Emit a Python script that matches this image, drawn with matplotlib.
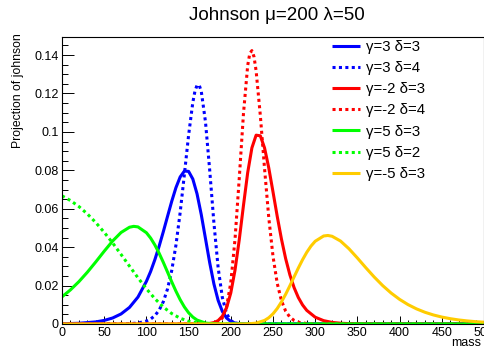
import matplotlib
matplotlib.use("Agg")
import matplotlib.pyplot as plt
from matplotlib.ticker import MultipleLocator, FuncFormatter

plt.rcParams['font.family'] = ['Liberation Sans', 'DejaVu Sans']

# values (y = projection per 5-unit bin)
blue_x = [0, 20, 40, 50, 60, 70, 80, 90,
          100, 105, 110, 115, 120, 125, 130, 135, 140, 145, 150, 155, 160,
          165, 170, 175, 180, 185, 190, 195, 200, 205, 210, 220, 500]
blue_solid = [0.00013, 0.00038, 0.0011, 0.00186, 0.00313, 0.00524, 0.00865, 0.01402,
              0.02219, 0.02733, 0.03345, 0.04038, 0.04799, 0.05597, 0.06385, 0.07098,
              0.07653, 0.07962, 0.07944, 0.07547, 0.06775, 0.05697, 0.04446, 0.03189,
              0.02083, 0.0123, 0.00653, 0.00311, 0.00133, 0.00052, 0.00018, 0.00002, 0]

bluedot_x = [0, 60, 70, 80, 90, 100, 105, 110, 115, 120, 125, 130, 135, 140, 145,
             150, 155, 157.5, 160, 162.5, 165, 170, 175, 180, 185, 190, 195, 200,
             205, 210, 220, 500]
blue_dotted = [0, 0.00002, 0.00005, 0.00017, 0.00051, 0.00152, 0.00258, 0.00433,
               0.00714, 0.01154, 0.01819, 0.02782, 0.04105, 0.05801, 0.07786,
               0.09829, 0.11537, 0.12115, 0.12431, 0.1244, 0.12119, 0.10524, 0.08008,
               0.05255, 0.02932, 0.01376, 0.0054, 0.00177, 0.00049, 0.00012, 0, 0]

red_x = [0, 150, 160, 170, 175, 180, 185, 190, 195, 200, 205, 210, 215, 220, 225,
         230, 235, 240, 245, 250, 255, 260, 265, 270, 275, 280, 285, 290,
         300, 310, 320, 330, 340, 350, 360, 380, 500]
red_solid = [0, 0, 0.00001, 0.00011, 0.00029, 0.00073, 0.00178, 0.00404, 0.00846,
             0.0162, 0.02805, 0.0438, 0.0617, 0.07876, 0.09169, 0.0983, 0.09796,
             0.09164, 0.08122, 0.06878, 0.05605, 0.04425, 0.03402, 0.0256, 0.01893,
             0.01379, 0.00994, 0.00709, 0.00354, 0.00174, 0.00084, 0.00041, 0.0002,
             0.0001, 0.00005, 0.00001, 0]

reddot_x = [0, 170, 180, 185, 190, 195, 200, 205, 210, 215, 220, 222.5, 225, 227.5,
            230, 235, 240, 245, 250, 255, 260, 265, 270, 275, 280, 290, 300, 500]
red_dotted = [0, 0.00001, 0.00026, 0.00097, 0.00315, 0.00893, 0.0216, 0.0441,
              0.07568, 0.10945, 0.13451, 0.14084, 0.14233, 0.13911, 0.13175, 0.10849,
              0.08081, 0.05529, 0.03525, 0.02119, 0.01214, 0.00669, 0.00357,
              0.00186, 0.00095, 0.00024, 0.00006, 0]

green_x = [0, 10, 20, 30, 40, 50, 60, 70, 80, 85, 90, 100, 105, 110, 115, 120, 125,
           130, 135, 140, 145, 150, 155, 160, 170, 180, 190, 500]
green_solid = [0.01414, 0.01776, 0.02204, 0.02694, 0.03231, 0.03789, 0.04321,
               0.04765, 0.05038, 0.05083, 0.05055, 0.04752, 0.04474, 0.04116, 0.0369,
               0.03213, 0.02707, 0.02196, 0.01708, 0.01266, 0.00888, 0.00586, 0.0036,
               0.00205, 0.0005, 0.00008, 0.00001, 0]

greendot_x = [0, 10, 20, 30, 40, 50, 60, 70, 80, 90, 100, 110, 120, 130, 140, 150,
              160, 170, 180, 190, 500]
green_dotted = [0.06673, 0.06428, 0.06115, 0.05732, 0.05282, 0.04772, 0.04218,
                0.0362, 0.03009, 0.02406, 0.01834, 0.0132, 0.00885, 0.00544, 0.00299,
                0.00143, 0.00058, 0.00019, 0.00005, 0.00001, 0]

yellow_x = [0, 200, 210, 220, 230, 240, 245, 250, 255, 260, 265, 270, 275, 280, 285,
            290, 295, 300, 310, 315, 320, 330, 340, 350, 360, 370, 380, 390, 400,
            410, 420, 430, 440, 450, 460, 470, 480, 490, 500]
yellow_solid = [0, 0, 0.00001, 0.00007, 0.00046, 0.00186, 0.00327, 0.00531, 0.00805,
                0.01148, 0.01548, 0.01991, 0.02454, 0.02912, 0.03345, 0.03731,
                0.04056, 0.04308, 0.04582, 0.04608, 0.04567, 0.04319, 0.03917,
                0.03435, 0.02929, 0.02442, 0.01998, 0.0161, 0.01282, 0.01009, 0.00788,
                0.00611, 0.00471, 0.00362, 0.00277, 0.00211, 0.00161, 0.00122, 0.00093]

labels = ['γ=3 δ=3', 'γ=3 δ=4', 'γ=-2 δ=3', 'γ=-2 δ=4',
          'γ=5 δ=3', 'γ=5 δ=2', 'γ=-5 δ=3']

fig = plt.figure(figsize=(4.85, 3.52), dpi=100)
ax = fig.add_axes([62 / 485, 1 - 324 / 352, 422 / 485, 287 / 352])

lw = 2.2
dots = (1, 1.1)
series = [
    (blue_x, blue_solid, '#0000ff', None),
    (bluedot_x, blue_dotted, '#0000ff', dots),
    (red_x, red_solid, '#ff0000', None),
    (reddot_x, red_dotted, '#ff0000', dots),
    (green_x, green_solid, '#00ff00', None),
    (greendot_x, green_dotted, '#00ff00', dots),
    (yellow_x, yellow_solid, '#ffcc00', None),
]
for (xs, ys, col, dash), lab in zip(series, labels):
    line, = ax.plot(xs, ys, color=col, lw=lw, label=lab, solid_capstyle='butt')
    if dash:
        line.set_dashes(dash)

ax.set_xlim(0, 500)
ax.set_ylim(0, 0.1494)

ax.xaxis.set_major_locator(MultipleLocator(50))
ax.xaxis.set_minor_locator(MultipleLocator(10))
ax.yaxis.set_major_locator(MultipleLocator(0.02))
ax.yaxis.set_minor_locator(MultipleLocator(0.005))
ax.yaxis.set_major_formatter(FuncFormatter(lambda v, p: ('%g' % round(v, 3))))

ax.tick_params(axis='both', which='both', direction='in', labelsize=9,
               colors='black')
ax.tick_params(axis='y', which='major', length=8.6, width=0.7, pad=2.5)
ax.tick_params(axis='y', which='minor', length=4.3, width=0.7)
ax.tick_params(axis='x', which='major', length=5.8, width=0.7, pad=2.5)
ax.tick_params(axis='x', which='minor', length=2.9, width=0.7)
for sp in ax.spines.values():
    sp.set_linewidth(0.8)

fig.text(18 / 485, 1 - 33 / 352, 'Projection of johnson', rotation=90,
         ha='center', va='top', fontsize=8.8)
fig.text(481 / 485, 1 - 343 / 352, 'mass', ha='right', va='center', fontsize=9)
fig.text(277 / 485, 1 - 15 / 352, 'Johnson μ=200 λ=50', ha='center',
         va='center', fontsize=13.5)

ax.legend(loc='upper left', bbox_to_anchor=(328 / 485, 1 - 36 / 352),
          bbox_transform=fig.transFigure, frameon=False, fontsize=10.8,
          handlelength=1.85, handletextpad=0.4, labelspacing=0.48,
          borderaxespad=0, borderpad=0.25)

fig.savefig('out.png', dpi=100)
